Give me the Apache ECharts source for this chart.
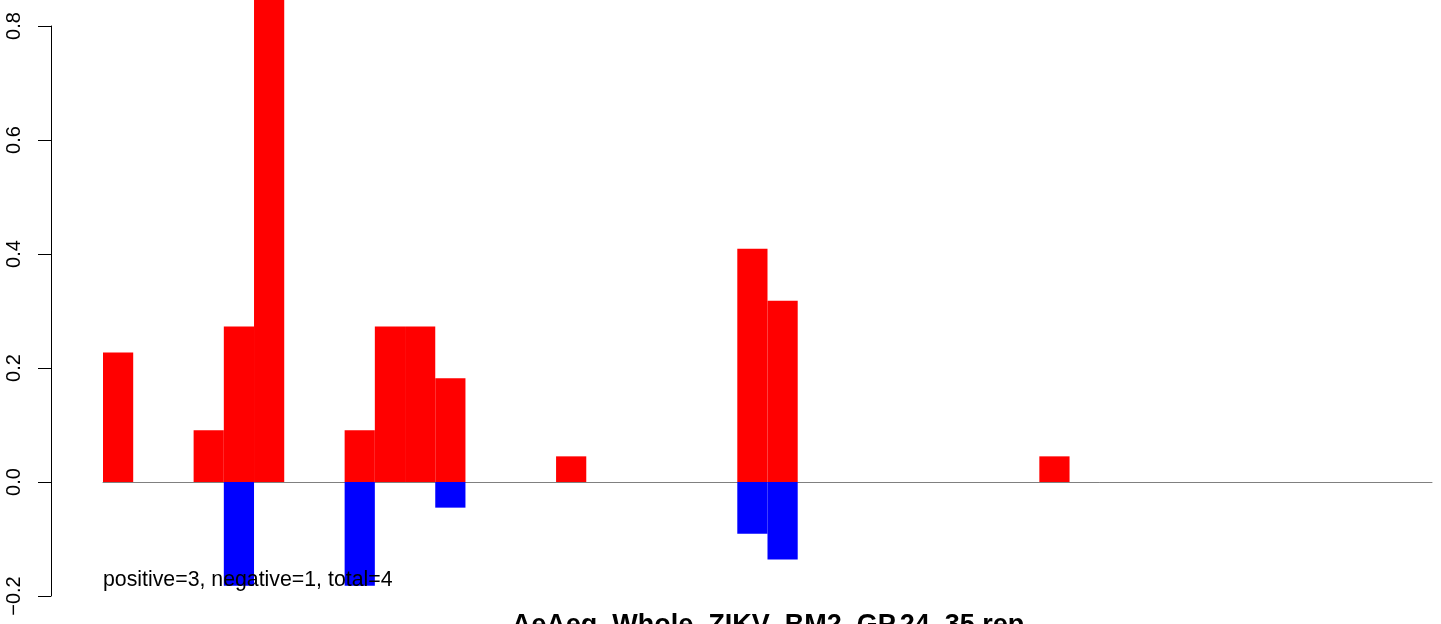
<!DOCTYPE html>
<html>
<head>
<meta charset="utf-8">
<script src="https://cdn.jsdelivr.net/npm/echarts@6/dist/echarts.min.js"></script>
<style>
  html, body { margin: 0; padding: 0; background: #fff; }
  #main { width: 1441px; height: 624px; }
</style>
</head>
<body>
<div id="main"></div>
<script>
// slot index along the x axis (44 slots)
var slots = [];
for (var i = 0; i < 44; i++) slots.push(String(i + 1));

// positive part of each slot (red)
var posValues = [
  0.227, 0, 0, 0.091, 0.273, 0.909, 0, 0, 0.091, 0.273, 0.273,
  0.182, 0, 0, 0, 0.045, 0, 0, 0, 0, 0, 0.409,
  0.318, 0, 0, 0, 0, 0, 0, 0, 0, 0.045, 0,
  0, 0, 0, 0, 0, 0, 0, 0, 0, 0, 0
];
// negative part of each slot (blue)
var negValues = [
  0, 0, 0, 0, -0.182, 0, 0, 0, -0.182, 0, 0,
  -0.045, 0, 0, 0, 0, 0, 0, 0, 0, 0, -0.091,
  -0.136, 0, 0, 0, 0, 0, 0, 0, 0, 0, 0,
  0, 0, 0, 0, 0, 0, 0, 0, 0, 0, 0
];
var yTicks = [-0.2, 0, 0.2, 0.4, 0.6, 0.8];

var summaryText = 'positive=3, negative=1, total=4';
var titleText = 'AeAeg_Whole_ZIKV_BM2_GP.24_35.rep';

var chart = echarts.init(document.getElementById('main'));

var option = {
  animation: false,
  grid: { left: 103, right: 9, top: 26, bottom: 28 },
  xAxis: {
    type: 'category',
    data: slots,
    boundaryGap: true,
    axisLine: { show: true, onZero: true, lineStyle: { color: '#808080', width: 1 } },
    axisTick: { show: false },
    axisLabel: { show: false },
    splitLine: { show: false }
  },
  yAxis: {
    type: 'value',
    min: -0.2,
    max: 0.8,
    interval: 0.2,
    offset: 52,
    axisLine: { show: true, lineStyle: { color: '#000', width: 1 } },
    axisTick: { show: true, length: 13, lineStyle: { color: '#000' }, customValues: yTicks },
    axisLabel: {
      rotate: 90,
      margin: 27,
      color: '#000',
      fontFamily: 'Liberation Sans, Arial, sans-serif',
      fontSize: 20,
      customValues: yTicks,
      formatter: function (v) {
        var s = v.toFixed(1);
        return s.replace('-', '\u2212');
      }
    },
    splitLine: { show: false }
  },
  series: [
    {
      name: 'positive',
      type: 'bar',
      data: posValues,
      barWidth: '100%',
      barGap: '-100%',
      barCategoryGap: 0,
      clip: false,
      itemStyle: { color: '#ff0000' }
    },
    {
      name: 'negative',
      type: 'bar',
      data: negValues,
      barWidth: '100%',
      barGap: '-100%',
      barCategoryGap: 0,
      clip: false,
      itemStyle: { color: '#0000ff' }
    }
  ],
  graphic: [
    {
      type: 'text',
      x: 103,
      y: 591,
      z: 100,
      style: {
        text: summaryText,
        fill: '#000',
        font: '21.3px "Liberation Sans", Arial, sans-serif',
        textAlign: 'left',
        textVerticalAlign: 'bottom'
      }
    },
    {
      type: 'text',
      x: 768,
      y: 612,
      z: 100,
      style: {
        text: titleText,
        fill: '#000',
        font: 'bold 27px "Liberation Sans", Arial, sans-serif',
        textAlign: 'center',
        textVerticalAlign: 'top'
      }
    }
  ]
};

chart.setOption(option);
</script>
</body>
</html>
